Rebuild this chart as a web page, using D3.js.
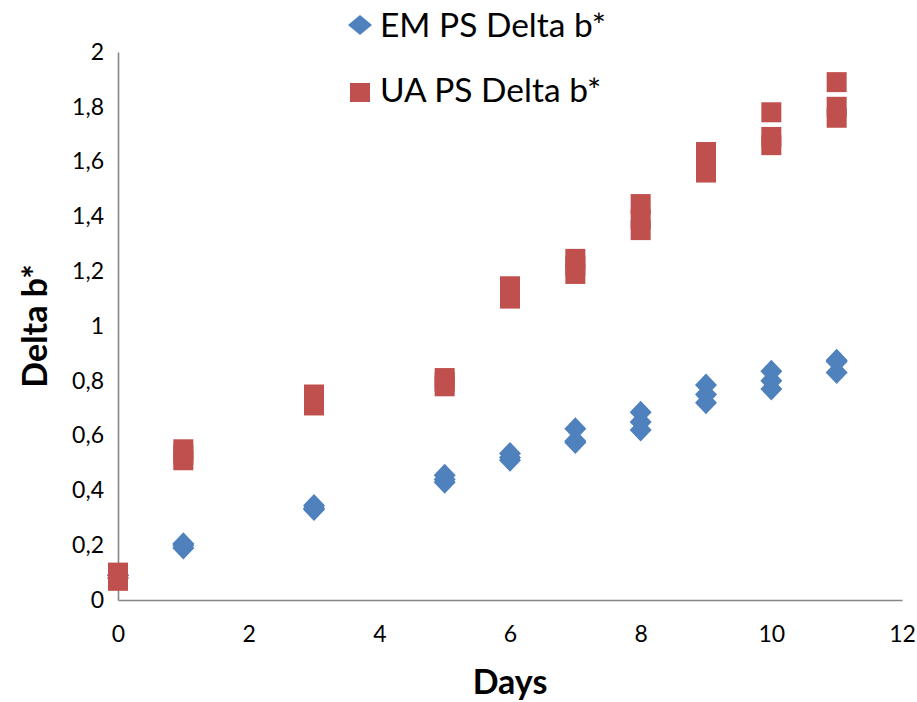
<!DOCTYPE html>
<html lang="en">
<head>
  <meta charset="UTF-8">
  <title>Delta b*</title>
  <style>
    * {box-sizing: border-box;}
    html, body {
      margin: 0;
      padding: 0;
      background: #fff;
    }
    text { font-family: Lato, "Open Sans", sans-serif; fill: #000; }
  </style>
</head>
<body>
  <svg id="chart"></svg>

  <script src="https://d3js.org/d3.v7.min.js"></script>
  <script>
    // days and replicate readings per series
    const emDays = [0, 0, 0, 1, 1, 1, 3, 3, 3, 5, 5, 5, 6, 6, 6, 7, 7, 7, 8, 8, 8, 9, 9, 9, 10, 10, 10, 11, 11, 11]
    const emValues = [0.08, 0.09, 0.09, 0.19, 0.20, 0.205, 0.33, 0.335, 0.345, 0.43, 0.44, 0.455,
      0.51, 0.52, 0.535, 0.575, 0.58, 0.625, 0.62, 0.65, 0.685, 0.72, 0.75, 0.785,
      0.77, 0.80, 0.835, 0.83, 0.87, 0.875]
    const uaDays = [0, 0, 0, 1, 1, 1, 3, 3, 3, 5, 5, 5, 6, 6, 6, 7, 7, 7, 8, 8, 8, 9, 9, 9, 10, 10, 10, 11, 11, 11]
    const uaValues = [0.07, 0.085, 0.10, 0.51, 0.53, 0.55, 0.71, 0.73, 0.75, 0.78, 0.795, 0.81,
      1.10, 1.12, 1.145, 1.19, 1.22, 1.245, 1.35, 1.39, 1.445, 1.56, 1.59, 1.635,
      1.66, 1.69, 1.78, 1.76, 1.80, 1.89]
    const xTicks = [0, 2, 4, 6, 8, 10, 12]
    const yTicks = [0, 0.2, 0.4, 0.6, 0.8, 1, 1.2, 1.4, 1.6, 1.8, 2]
    const seriesNames = ['EM PS Delta b*', 'UA PS Delta b*']

    const width = 917
    const height = 702
    const blue = '#4F81BD'
    const red = '#C0504D'

    const svg = d3.select('#chart')
      .attr('width', width)
      .attr('height', height)

    const x = d3.scaleLinear().domain([0, 12]).range([118, 902])
    const y = d3.scaleLinear().domain([0, 2]).range([600, 52])

    const fmt = d => String(+d.toFixed(1)).replace('.', ',')

    // axes, no tick marks, just the gray lines
    const xAxis = svg.append('g')
      .attr('transform', `translate(0,${y(0)})`)
      .call(d3.axisBottom(x).tickValues(xTicks).tickSize(0).tickPadding(26).tickFormat(fmt))
    const yAxis = svg.append('g')
      .attr('transform', `translate(${x(0)},0)`)
      .call(d3.axisLeft(y).tickValues(yTicks).tickSize(0).tickPadding(14).tickFormat(fmt))

    for (const ax of [xAxis, yAxis]) {
      ax.select('.domain').attr('stroke', '#868686').attr('stroke-width', 1.6)
      ax.selectAll('text').attr('font-size', 23).attr('font-family', 'Lato, sans-serif').attr('fill', '#000')
    }

    const diamond = (w, h) => `M0,${-h}L${w},0L0,${h}L${-w},0Z`

    const em = emDays.map((d, i) => ({day: d, v: emValues[i]}))
    const ua = uaDays.map((d, i) => ({day: d, v: uaValues[i]}))

    svg.append('g').selectAll('path')
      .data(em)
      .enter().append('path')
      .attr('d', diamond(11, 11.5))
      .attr('transform', d => `translate(${x(d.day)},${y(d.v)})`)
      .attr('fill', blue)

    svg.append('g').selectAll('rect')
      .data(ua)
      .enter().append('rect')
      .attr('x', d => x(d.day) - 10)
      .attr('y', d => y(d.v) - 10)
      .attr('width', 20)
      .attr('height', 20)
      .attr('fill', red)

    // axis titles
    svg.append('text')
      .attr('x', 510)
      .attr('y', 694)
      .attr('text-anchor', 'middle')
      .attr('font-size', 34)
      .attr('font-weight', 'bold')
      .text('Days')

    svg.append('text')
      .attr('transform', 'translate(47,326) rotate(-90)')
      .attr('text-anchor', 'middle')
      .attr('font-size', 34)
      .attr('font-weight', 'bold')
      .text('Delta b*')

    // legend
    const legend = svg.append('g')
    legend.append('path')
      .attr('d', diamond(12, 10))
      .attr('transform', 'translate(360,25)')
      .attr('fill', blue)
    legend.append('rect')
      .attr('x', 350).attr('y', 83).attr('width', 20).attr('height', 19)
      .attr('fill', red)
    legend.selectAll('text.lbl')
      .data(seriesNames)
      .enter().append('text')
      .attr('class', 'lbl')
      .attr('x', 380)
      .attr('y', (d, i) => 37 + i * 65)
      .attr('font-size', 33.5)
      .text(d => d)
  </script>
</body>
</html>
